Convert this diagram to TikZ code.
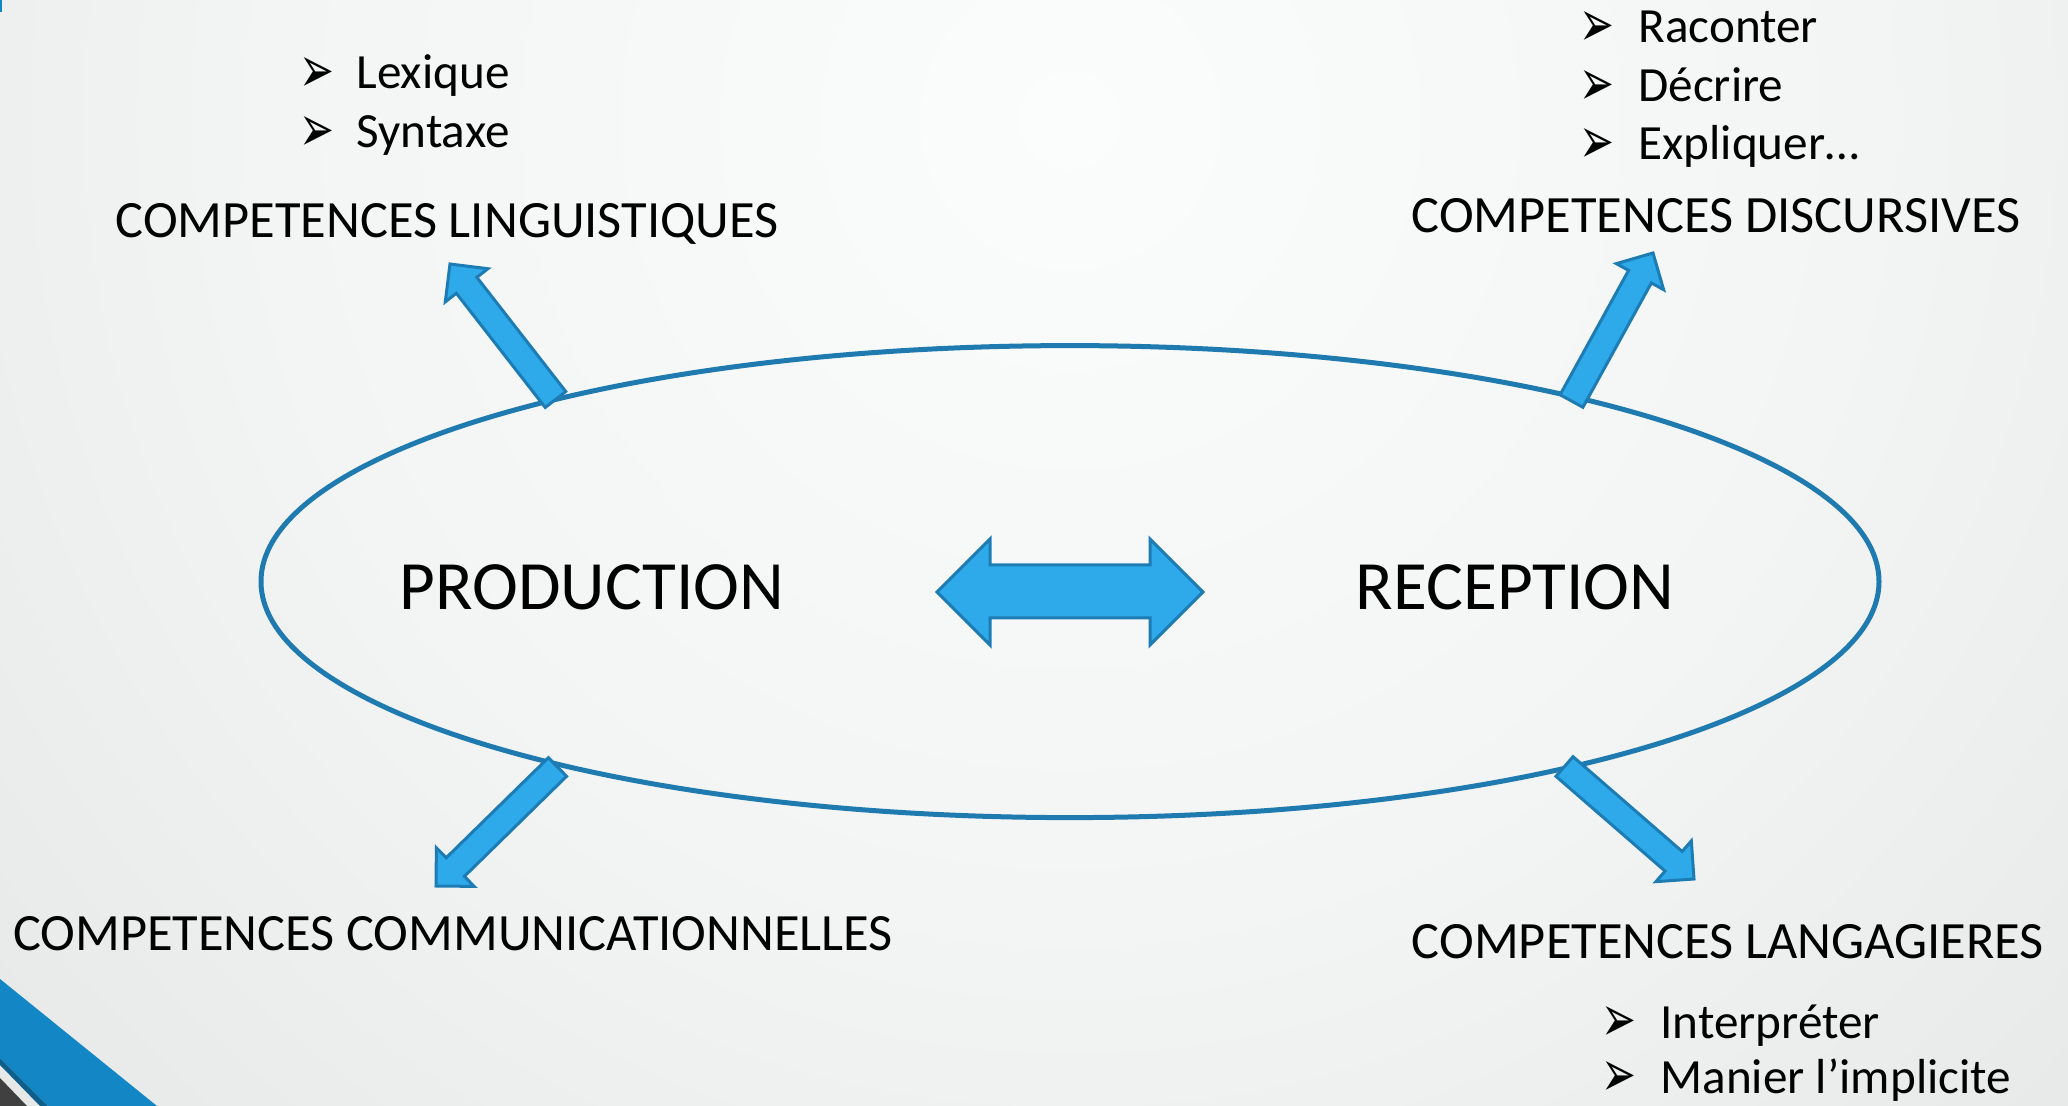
\documentclass[tikz,border=0pt]{standalone}
\usepackage{fontspec}
\usepackage{graphicx}
\setmainfont{Carlito}
\newfontfamily\dejavu{DejaVu Sans}
\usetikzlibrary{calc,shapes.geometric}
\definecolor{ellcol}{RGB}{31,122,176}
\definecolor{arrfill}{RGB}{46,170,234}
\definecolor{arrline}{RGB}{30,124,180}
\definecolor{cornerblue}{RGB}{19,135,198}
\definecolor{cornerdark}{RGB}{14,95,140}
\definecolor{cornergrey}{RGB}{64,64,64}
\definecolor{bga}{RGB}{251,252,252}
\definecolor{bgb}{RGB}{243,244,244}
\definecolor{bgc}{RGB}{228,230,230}
\definecolor{bgd}{RGB}{209,212,213}
\definecolor{bge}{RGB}{185,189,190}
\pgfdeclareradialshading{bgshade}{\pgfpoint{0bp}{0bp}}{color(0bp)=(bga); color(12.5bp)=(bgb); color(25bp)=(bgc); color(37.5bp)=(bgd); color(50bp)=(bge)}
\newcommand\bul{\smash{\raisebox{-1.8pt}{\resizebox{17.5pt}{17.5pt}{\dejavu ➢}}}}
\newcommand\blockarrow[2]{%
  \coordinate (ta) at #1; \coordinate (tp) at #2;
  \coordinate (hb) at ($(tp)!13.5pt!(ta)$);
  \draw[barrow] ($(ta)!6.5pt!90:(tp)$) -- ($(hb)!6.5pt!90:(tp)$) -- ($(hb)!13.5pt!90:(tp)$) -- (tp)
    -- ($(hb)!13.5pt!-90:(tp)$) -- ($(hb)!6.5pt!-90:(tp)$) -- ($(ta)!6.5pt!-90:(tp)$) -- cycle;}
\tikzset{
  barrow/.style={fill=arrfill, draw=arrline, line width=1.5pt, line join=miter},
  lbl/.style={inner sep=0pt, anchor=base, font=\fontsize{26.2}{26.2}\selectfont},
  big/.style={inner sep=0pt, anchor=base, font=\fontsize{34.6}{34.6}\selectfont},
  item/.style={inner sep=0pt, anchor=base west, font=\fontsize{24.6}{24.6}\selectfont},
}
\begin{document}
\begin{tikzpicture}[x=0.5pt,y=-0.5pt]
\useasboundingbox (0,0) rectangle (2068,1106);
\begin{scope}
\clip (0,0) rectangle (2068,1106);
\shade[shading=bgshade] (1070,120) circle (800pt);
% corner decorations
\fill[cornerblue] (0,979) -- (157,1106) -- (48,1106) -- (0,1058) -- cycle;
\fill[cornerdark] (0,1058) -- (48,1106) -- (40,1106) -- (0,1065) -- cycle;
\fill[cornergrey] (0,1078) -- (27,1106) -- (0,1106) -- cycle;
\fill[cornerblue] (0,0) rectangle (2,12);
\end{scope}
% ellipse
\node[draw=ellcol, line width=2.5pt, ellipse, minimum width=809pt, minimum height=236pt, inner sep=0pt] (ell) at (1070,581.6) {};
% labels
\node[big] (prod) at (592,610) {PRODUCTION};
\node[big] (recp) at (1515,610) {RECEPTION};
\node[lbl] (ling) at (447,238) {COMPETENCES LINGUISTIQUES};
\node[lbl] (disc) at (1716,233) {COMPETENCES DISCURSIVES};
\node[lbl] (comm) at (453,950) {COMPETENCES COMMUNICATIONNELLES};
\node[lbl] (lang) at (1728,958) {COMPETENCES LANGAGIERES};
% bullet lists
\node[item] (b1) at (299,89) {\makebox[28.5pt][l]{\bul}Lexique};
\node[item] (b2) at (299,148) {\makebox[28.5pt][l]{\bul}Syntaxe};
\node[item] (b3) at (1579,43) {\makebox[29.5pt][l]{\bul}Raconter};
\node[item] (b4) at (1579,102) {\makebox[29.5pt][l]{\bul}Décrire};
\node[item] (b5) at (1579,160) {\makebox[29.5pt][l]{\bul}Expliquer…};
\node[item] (b6) at (1601,1038) {\makebox[29.5pt][l]{\bul}Interpréter};
\node[item] (b7) at (1601,1093) {\makebox[29.5pt][l]{\bul}Manier l’implicite};
% block arrows
\blockarrow{(555.5,399.5)}{(450,264)}
\blockarrow{(1571.5,401)}{(1653,253)}
\blockarrow{(557.5,767)}{(436,886)}
\blockarrow{(1564.5,766.5)}{(1694,879)}
% double arrow
\draw[barrow] (937,592) -- (990,539) -- (990,565) -- (1150,565) -- (1150,539) -- (1203,592)
  -- (1150,645) -- (1150,618) -- (990,618) -- (990,645) -- cycle;
\end{tikzpicture}
\end{document}
